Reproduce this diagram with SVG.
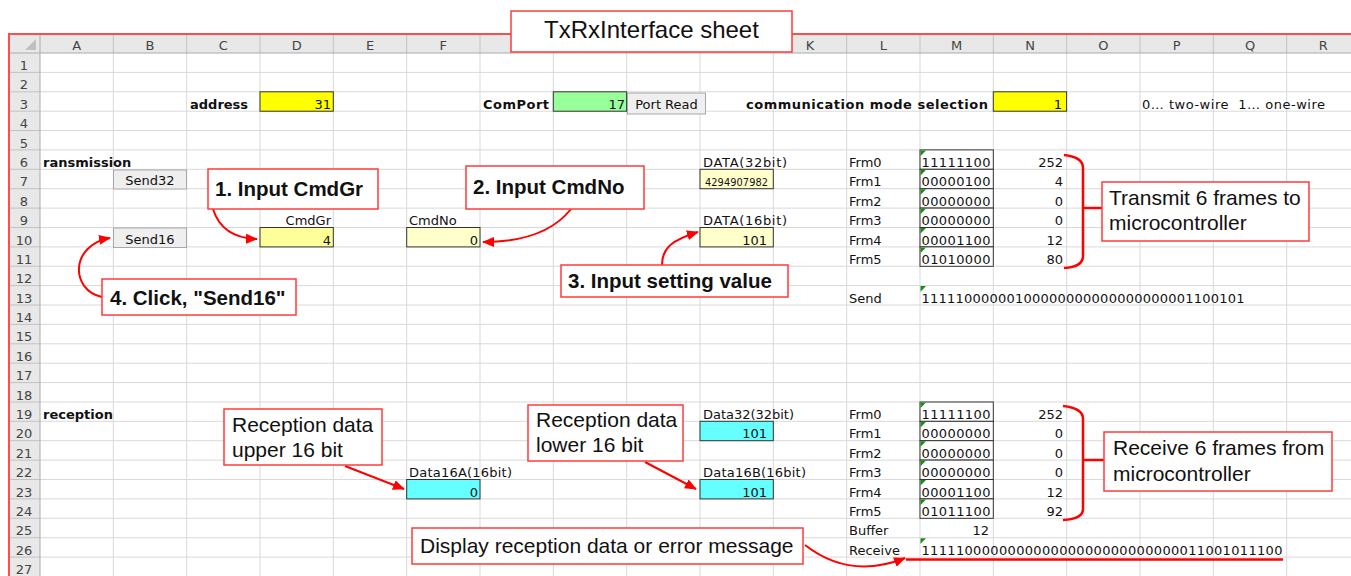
<svg xmlns="http://www.w3.org/2000/svg" width="1351" height="576" viewBox="0 0 1351 576">
<defs>
<style>
.g{stroke:#d9d9d9;stroke-width:1;fill:none}
.hb{fill:#e8e8e8}
.hs{stroke:#c2c2c2;stroke-width:1;fill:none}
.ht{font-family:"DejaVu Sans",sans-serif;font-size:13px;fill:#444;text-anchor:middle}
.t{font-family:"DejaVu Sans",sans-serif;font-size:13px;fill:#111}
.tb{font-family:"DejaVu Sans",sans-serif;font-size:13px;font-weight:bold;fill:#111}
.r{text-anchor:end}
.m{text-anchor:middle}
.box{stroke:#333;stroke-width:1}
.tri{fill:#1a8a1a}
.btn{fill:#efefef;stroke:#a8a8a8;stroke-width:1}
.co{fill:#fff;stroke:#ff3b3b;stroke-width:1.5}
.ct{font-family:"Liberation Sans",Arial,sans-serif;font-size:21px;fill:#111}
.cb{font-family:"Liberation Sans",Arial,sans-serif;font-size:20.5px;font-weight:bold;fill:#111}
.ar{fill:none;stroke:#ff0000;stroke-width:2}
.br{fill:none;stroke:#ff0000;stroke-width:2.5}
</style>
<marker id="ah" viewBox="0 0 12 10" refX="11" refY="5" markerWidth="12" markerHeight="10" markerUnits="userSpaceOnUse" orient="auto"><path d="M0,0 L12,5 L0,10 z" fill="#ff0000"/></marker>
</defs>
<rect x="0" y="0" width="1351" height="576" fill="#fff"/>

<g id="sheet-frame">
<rect class="hb" x="9" y="34" width="1342" height="19"/>
<rect class="hb" x="9" y="53" width="31" height="523"/>
<polygon points="36,39 36,50 25,50" fill="#c0c0c0"/>
<path class="g" d="M40,72.4H1351M40,91.8H1351M40,111.2H1351M40,130.5H1351M40,149.9H1351M40,169.3H1351M40,188.7H1351M40,208.1H1351M40,227.5H1351M40,246.9H1351M40,266.2H1351M40,285.6H1351M40,305H1351M40,324.4H1351M40,343.8H1351M40,363.2H1351M40,382.6H1351M40,402H1351M40,421.3H1351M40,440.7H1351M40,460.1H1351M40,479.5H1351M40,498.9H1351M40,518.3H1351M40,537.7H1351M40,557.1H1351"/>
<path class="g" d="M113.3,53V576M186.7,53V576M260,53V576M333.3,53V576M406.7,53V576M480,53V576M553.3,53V576M626.7,53V576M700,53V576M773.3,53V576M846.7,53V576M920,53V576M993.3,53V576M1066.7,53V576M1140,53V576M1213.3,53V576M1286.7,53V576"/>
<path class="hs" d="M9,72.4H40M9,91.8H40M9,111.2H40M9,130.5H40M9,149.9H40M9,169.3H40M9,188.7H40M9,208.1H40M9,227.5H40M9,246.9H40M9,266.2H40M9,285.6H40M9,305H40M9,324.4H40M9,343.8H40M9,363.2H40M9,382.6H40M9,402H40M9,421.3H40M9,440.7H40M9,460.1H40M9,479.5H40M9,498.9H40M9,518.3H40M9,537.7H40M9,557.1H40"/>
<path class="hs" d="M113.3,34V53M186.7,34V53M260,34V53M333.3,34V53M406.7,34V53M480,34V53M553.3,34V53M626.7,34V53M700,34V53M773.3,34V53M846.7,34V53M920,34V53M993.3,34V53M1066.7,34V53M1140,34V53M1213.3,34V53M1286.7,34V53"/>
<path d="M9,53H1351M40,34V576" stroke="#ababab" stroke-width="1" fill="none"/>
<text class="ht" x="76.7" y="50">A</text><text class="ht" x="150" y="50">B</text><text class="ht" x="223.3" y="50">C</text><text class="ht" x="296.7" y="50">D</text><text class="ht" x="370" y="50">E</text><text class="ht" x="443.3" y="50">F</text><text class="ht" x="810" y="50">K</text><text class="ht" x="883.3" y="50">L</text><text class="ht" x="956.7" y="50">M</text><text class="ht" x="1030" y="50">N</text><text class="ht" x="1103.3" y="50">O</text><text class="ht" x="1176.7" y="50">P</text><text class="ht" x="1250" y="50">Q</text><text class="ht" x="1323.3" y="50">R</text>
<text class="ht" x="24" y="70">1</text><text class="ht" x="24" y="89.4">2</text><text class="ht" x="24" y="108.8">3</text><text class="ht" x="24" y="128.2">4</text><text class="ht" x="24" y="147.5">5</text><text class="ht" x="24" y="166.9">6</text><text class="ht" x="24" y="186.3">7</text><text class="ht" x="24" y="205.7">8</text><text class="ht" x="24" y="225.1">9</text><text class="ht" x="24" y="244.5">10</text><text class="ht" x="24" y="263.9">11</text><text class="ht" x="24" y="283.2">12</text><text class="ht" x="24" y="302.6">13</text><text class="ht" x="24" y="322">14</text><text class="ht" x="24" y="341.4">15</text><text class="ht" x="24" y="360.8">16</text><text class="ht" x="24" y="380.2">17</text><text class="ht" x="24" y="399.6">18</text><text class="ht" x="24" y="419">19</text><text class="ht" x="24" y="438.3">20</text><text class="ht" x="24" y="457.7">21</text><text class="ht" x="24" y="477.1">22</text><text class="ht" x="24" y="496.5">23</text><text class="ht" x="24" y="515.9">24</text><text class="ht" x="24" y="535.3">25</text><text class="ht" x="24" y="554.7">26</text><text class="ht" x="24" y="574.1">27</text>
<path d="M9,576V34H1351" stroke="#ff4d4d" stroke-width="2" fill="none"/>
</g>

<g id="row3-settings">
<text class="tb" x="190" y="108.8">address</text>
<rect class="box" x="260" y="91.8" width="73.3" height="19.4" fill="#ffff00"/>
<text class="t r" x="331" y="108.8">31</text>
<text class="tb" x="483" y="108.8" textLength="66">ComPort</text>
<rect class="box" x="553.3" y="91.8" width="73.3" height="19.4" fill="#99ff99"/>
<text class="t r" x="625" y="108.8">17</text>
<rect class="btn" x="627.5" y="93" width="78" height="21"/>
<text class="t m" x="666.5" y="109">Port Read</text>
<text class="tb" x="746" y="108.8" textLength="242">communication mode selection</text>
<rect class="box" x="993.3" y="91.8" width="73.3" height="19.4" fill="#ffff00"/>
<text class="t r" x="1062" y="108.8">1</text>
<text class="t" x="1142" y="108.8" textLength="183" xml:space="preserve">0… two-wire  1… one-wire</text>
</g>

<g id="transmission">
<text class="tb" x="43" y="166.9">ransmission</text>
<rect class="btn" x="113.5" y="170" width="73" height="19"/>
<text class="t m" x="150" y="185">Send32</text>
<rect class="btn" x="113.5" y="228" width="73" height="19.5"/>
<text class="t m" x="150" y="243.5">Send16</text>
<text class="t r" x="331" y="225.1">CmdGr</text>
<rect class="box" x="260" y="227.5" width="73.3" height="19.4" fill="#ffff99"/>
<text class="t r" x="331" y="244.5">4</text>
<text class="t" x="409" y="225.1">CmdNo</text>
<rect class="box" x="406.7" y="227.5" width="73.3" height="19.4" fill="#ffffcc"/>
<text class="t r" x="478" y="244.5">0</text>
<text class="t" x="703" y="166.9" textLength="84">DATA(32bit)</text>
<rect class="box" x="700" y="169.3" width="73.3" height="19.4" fill="#ffffcc"/>
<text class="t" x="705" y="186" style="font-size:9.8px" textLength="63">4294907982</text>
<text class="t" x="703" y="225.1" textLength="84">DATA(16bit)</text>
<rect class="box" x="700" y="227.5" width="73.3" height="19.4" fill="#ffffcc"/>
<text class="t r" x="767" y="244.5">101</text>
</g>

<g id="tx-frames">
<text class="t" x="849" y="166.9">Frm0</text><text class="t" x="849" y="186.3">Frm1</text><text class="t" x="849" y="205.7">Frm2</text><text class="t" x="849" y="225.1">Frm3</text><text class="t" x="849" y="244.5">Frm4</text><text class="t" x="849" y="263.9">Frm5</text>
<rect class="box" x="920" y="149.9" width="73.3" height="19.4" fill="#fff"/><rect class="box" x="920" y="169.3" width="73.3" height="19.4" fill="#fff"/><rect class="box" x="920" y="188.7" width="73.3" height="19.4" fill="#fff"/><rect class="box" x="920" y="208.1" width="73.3" height="19.4" fill="#fff"/><rect class="box" x="920" y="227.5" width="73.3" height="19.4" fill="#fff"/><rect class="box" x="920" y="246.9" width="73.3" height="19.4" fill="#fff"/>
<polygon class="tri" points="920.5,150.4 926,150.4 920.5,156"/><polygon class="tri" points="920.5,169.8 926,169.8 920.5,175.4"/><polygon class="tri" points="920.5,189.2 926,189.2 920.5,194.8"/><polygon class="tri" points="920.5,208.6 926,208.6 920.5,214.2"/><polygon class="tri" points="920.5,228 926,228 920.5,233.6"/><polygon class="tri" points="920.5,247.4 926,247.4 920.5,253"/>
<text class="t" x="921.5" y="166.9" textLength="69">11111100</text><text class="t" x="921.5" y="186.3" textLength="69">00000100</text><text class="t" x="921.5" y="205.7" textLength="69">00000000</text><text class="t" x="921.5" y="225.1" textLength="69">00000000</text><text class="t" x="921.5" y="244.5" textLength="69">00001100</text><text class="t" x="921.5" y="263.9" textLength="69">01010000</text>
<text class="t r" x="1063" y="166.9">252</text><text class="t r" x="1063" y="186.3">4</text><text class="t r" x="1063" y="205.7">0</text><text class="t r" x="1063" y="225.1">0</text><text class="t r" x="1063" y="244.5">12</text><text class="t r" x="1063" y="263.9">80</text>
<text class="t" x="849" y="302.6">Send</text>
<polygon class="tri" points="920.5,286.1 926,286.1 920.5,291.7"/>
<text class="t" x="921.5" y="302.6" textLength="323">11111000000100000000000000000001100101</text>
</g>

<g id="reception">
<text class="tb" x="43" y="419">reception</text>
<text class="t" x="703" y="419" textLength="91">Data32(32bit)</text>
<rect class="box" x="700" y="421.3" width="73.3" height="19.4" fill="#66ffff"/>
<text class="t r" x="767" y="438.3">101</text>
<text class="t" x="409" y="477.1" textLength="103">Data16A(16bit)</text>
<rect class="box" x="406.7" y="479.5" width="73.3" height="19.4" fill="#66ffff"/>
<text class="t r" x="478" y="496.5">0</text>
<text class="t" x="703" y="477.1" textLength="103">Data16B(16bit)</text>
<rect class="box" x="700" y="479.5" width="73.3" height="19.4" fill="#66ffff"/>
<text class="t r" x="767" y="496.5">101</text>
</g>

<g id="rx-frames">
<text class="t" x="849" y="419">Frm0</text><text class="t" x="849" y="438.3">Frm1</text><text class="t" x="849" y="457.7">Frm2</text><text class="t" x="849" y="477.1">Frm3</text><text class="t" x="849" y="496.5">Frm4</text><text class="t" x="849" y="515.9">Frm5</text>
<rect class="box" x="920" y="402" width="73.3" height="19.4" fill="#fff"/><rect class="box" x="920" y="421.3" width="73.3" height="19.4" fill="#fff"/><rect class="box" x="920" y="440.7" width="73.3" height="19.4" fill="#fff"/><rect class="box" x="920" y="460.1" width="73.3" height="19.4" fill="#fff"/><rect class="box" x="920" y="479.5" width="73.3" height="19.4" fill="#fff"/><rect class="box" x="920" y="498.9" width="73.3" height="19.4" fill="#fff"/>
<polygon class="tri" points="920.5,402.5 926,402.5 920.5,408.1"/><polygon class="tri" points="920.5,421.8 926,421.8 920.5,427.4"/><polygon class="tri" points="920.5,441.2 926,441.2 920.5,446.8"/><polygon class="tri" points="920.5,460.6 926,460.6 920.5,466.2"/><polygon class="tri" points="920.5,480 926,480 920.5,485.6"/><polygon class="tri" points="920.5,499.4 926,499.4 920.5,505"/>
<text class="t" x="921.5" y="419" textLength="69">11111100</text><text class="t" x="921.5" y="438.3" textLength="69">00000000</text><text class="t" x="921.5" y="457.7" textLength="69">00000000</text><text class="t" x="921.5" y="477.1" textLength="69">00000000</text><text class="t" x="921.5" y="496.5" textLength="69">00001100</text><text class="t" x="921.5" y="515.9" textLength="69">01011100</text>
<text class="t r" x="1063" y="419">252</text><text class="t r" x="1063" y="438.3">0</text><text class="t r" x="1063" y="457.7">0</text><text class="t r" x="1063" y="477.1">0</text><text class="t r" x="1063" y="496.5">12</text><text class="t r" x="1063" y="515.9">92</text>
<text class="t" x="849" y="535.3">Buffer</text>
<text class="t r" x="989" y="535.3">12</text>
<text class="t" x="849" y="554.7">Receive</text>
<polygon class="tri" points="920.5,538.2 926,538.2 920.5,543.8"/>
<text class="t" x="921.5" y="554.7" textLength="361">111110000000000000000000000000011001011100</text>
</g>

<g id="connectors">
<path class="ar" d="M213,209 Q222,238 257,239" marker-end="url(#ah)"/>
<path class="ar" d="M571,209 Q545,242 483,242" marker-end="url(#ah)"/>
<path class="ar" d="M662,265 C662,248 672,240 698,232" marker-end="url(#ah)"/>
<path class="ar" d="M102,297 C70,290 70,245 110,238" marker-end="url(#ah)"/>
<path class="ar" d="M345,466 L404,489" marker-end="url(#ah)"/>
<path class="ar" d="M645,462 L696,489" marker-end="url(#ah)"/>
<path class="ar" d="M805,545 Q850,580 905,558" marker-end="url(#ah)"/>
<path class="br" d="M906,559.5 H1283"/>
<path class="br" d="M1064,155 Q1083,157 1083,168 V256 Q1083,267 1064,268 M1083,208 H1102"/>
<path class="br" d="M1063,406 Q1083,408 1083,419 V509 Q1083,519 1063,520 M1083,460 H1104"/>
</g>

<g id="title">
<rect class="co" x="511" y="11" width="281" height="41"/>
<text x="651.5" y="38" style="font-family:'Liberation Sans',Arial,sans-serif;font-size:24px;fill:#111;text-anchor:middle">TxRxInterface sheet</text>
</g>
<g id="callout-1">
<rect class="co" x="208" y="169" width="170" height="40"/>
<text class="cb" x="215" y="196">1. Input CmdGr</text>
</g>
<g id="callout-2">
<rect class="co" x="466" y="166" width="178" height="43"/>
<text class="cb" x="473" y="193.5">2. Input CmdNo</text>
</g>
<g id="callout-3">
<rect class="co" x="561" y="265" width="227" height="32"/>
<text class="cb" x="568" y="288">3. Input setting value</text>
</g>
<g id="callout-4">
<rect class="co" x="102" y="279" width="194" height="36"/>
<text class="cb" x="110" y="304.5">4. Click, "Send16"</text>
</g>
<g id="callout-transmit">
<rect class="co" x="1102" y="182" width="207" height="59"/>
<text class="ct" x="1109" y="205">Transmit 6 frames to</text>
<text class="ct" x="1109" y="230">microcontroller</text>
</g>
<g id="callout-upper">
<rect class="co" x="224" y="409" width="158" height="56"/>
<text class="ct" x="232" y="432">Reception data</text>
<text class="ct" x="232" y="456.5">upper 16 bit</text>
</g>
<g id="callout-lower">
<rect class="co" x="528" y="405" width="155" height="56"/>
<text class="ct" x="536" y="427">Reception data</text>
<text class="ct" x="536" y="451.5">lower 16 bit</text>
</g>
<g id="callout-receive">
<rect class="co" x="1104" y="432" width="228" height="59"/>
<text class="ct" x="1113" y="455">Receive 6 frames from</text>
<text class="ct" x="1113" y="480.5">microcontroller</text>
</g>
<g id="callout-display">
<rect class="co" x="412" y="528" width="391" height="36"/>
<text class="ct" x="420" y="553">Display reception data or error message</text>
</g>
</svg>
